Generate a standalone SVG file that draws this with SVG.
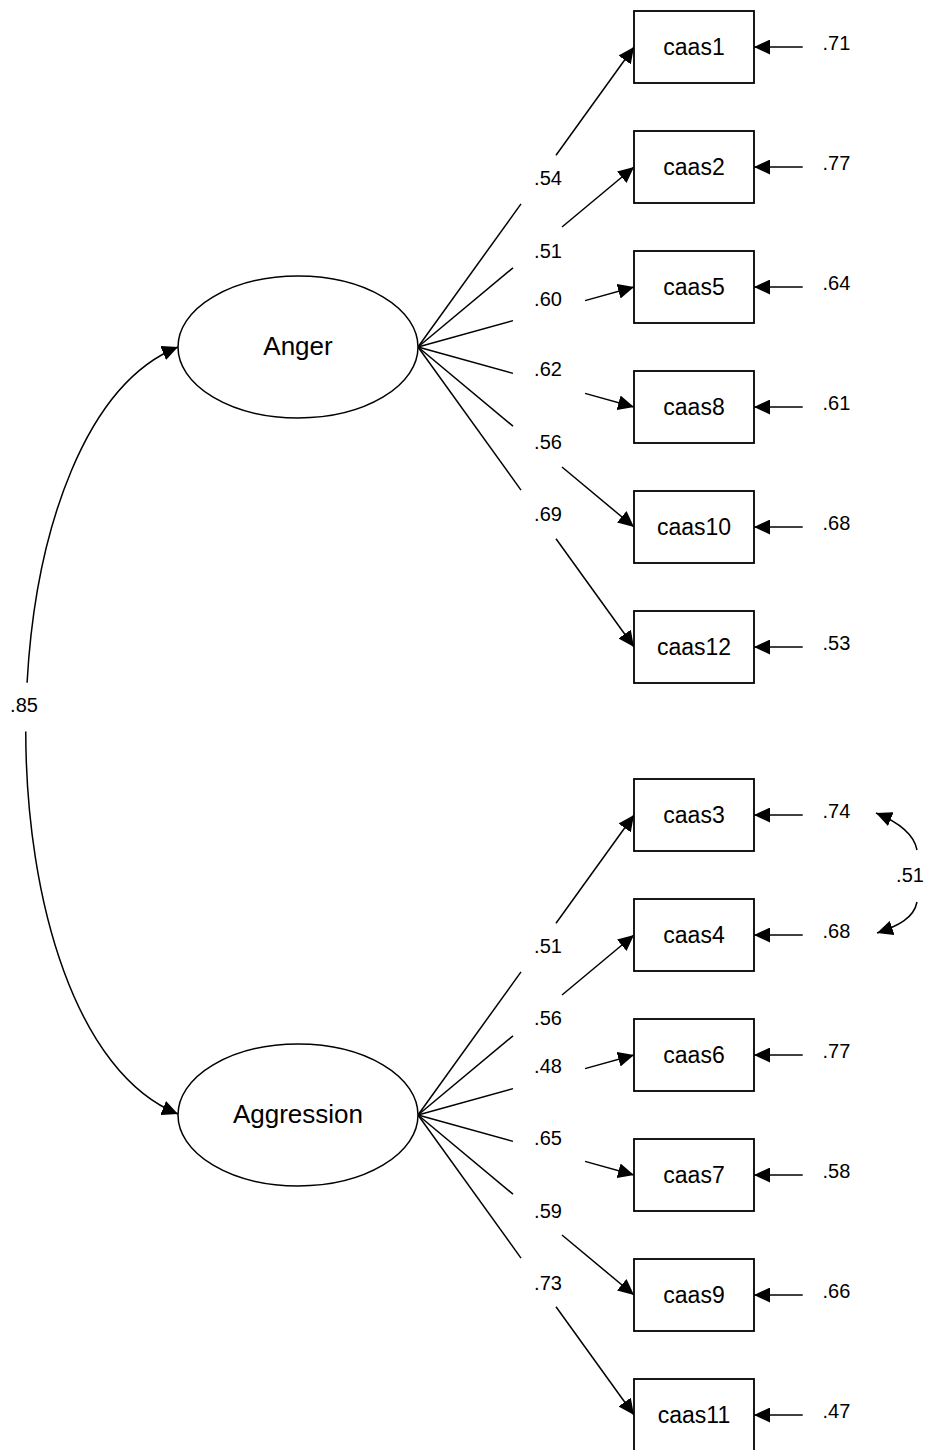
<svg xmlns="http://www.w3.org/2000/svg" width="928" height="1450" viewBox="0 0 928 1450">
  <style>
    .bg { fill: #ffffff; }
    .obs { fill: #ffffff; stroke: #000000; stroke-width: 1.8; }
    .lat { fill: #ffffff; stroke: #000000; stroke-width: 1.5; }
    .edge { fill: none; stroke: #000000; stroke-width: 1.5; }
    .arr { marker-end: url(#head); }
    text { font-family: "Liberation Sans", Arial, sans-serif; fill: #000000; }
    .lname { font-size: 26px; text-anchor: middle; }
    .oname { font-size: 23px; text-anchor: middle; }
    .coef { font-size: 20px; text-anchor: middle; }
    .err { font-size: 20px; text-anchor: start; }
  </style>
  <defs>
    <marker id="head" markerUnits="userSpaceOnUse" markerWidth="16" markerHeight="15" refX="16" refY="7.5" orient="auto" viewBox="0 0 16 15">
      <path d="M0,0 L16,7.5 L0,15 Z" fill="#000000"/>
    </marker>
  </defs>

  <rect class="bg" x="0" y="0" width="928" height="1450"/>

  <!-- connectors -->
  <g id="connectors">
    <!-- Anger loadings -->
    <path class="edge" d="M418,347 L521,203.9"/>
    <path class="edge arr" d="M556,155.3 L634,47"/>
    <path class="edge" d="M418,347 L513,267.8"/>
    <path class="edge arr" d="M562,227 L634,167"/>
    <path class="edge" d="M418,347 L513,320.6"/>
    <path class="edge arr" d="M585,300.6 L634,287"/>
    <path class="edge" d="M418,347 L513,373.4"/>
    <path class="edge arr" d="M585,393.4 L634,407"/>
    <path class="edge" d="M418,347 L513,426.2"/>
    <path class="edge arr" d="M562,467 L634,527"/>
    <path class="edge" d="M418,347 L521,490.1"/>
    <path class="edge arr" d="M556,538.7 L634,647"/>

    <!-- Aggression loadings -->
    <path class="edge" d="M418,1115 L521,971.9"/>
    <path class="edge arr" d="M556,923.3 L634,815"/>
    <path class="edge" d="M418,1115 L513,1035.8"/>
    <path class="edge arr" d="M562,995 L634,935"/>
    <path class="edge" d="M418,1115 L513,1088.6"/>
    <path class="edge arr" d="M585,1068.6 L634,1055"/>
    <path class="edge" d="M418,1115 L513,1141.4"/>
    <path class="edge arr" d="M585,1161.4 L634,1175"/>
    <path class="edge" d="M418,1115 L513,1194.2"/>
    <path class="edge arr" d="M562,1235 L634,1295"/>
    <path class="edge" d="M418,1115 L521,1258.1"/>
    <path class="edge arr" d="M556,1306.7 L634,1415"/>

    <!-- error terms -->
    <path class="edge arr" d="M802.7,47 L754,47"/>
    <path class="edge arr" d="M802.7,167 L754,167"/>
    <path class="edge arr" d="M802.7,287 L754,287"/>
    <path class="edge arr" d="M802.7,407 L754,407"/>
    <path class="edge arr" d="M802.7,527 L754,527"/>
    <path class="edge arr" d="M802.7,647 L754,647"/>
    <path class="edge arr" d="M802.7,815 L754,815"/>
    <path class="edge arr" d="M802.7,935 L754,935"/>
    <path class="edge arr" d="M802.7,1055 L754,1055"/>
    <path class="edge arr" d="M802.7,1175 L754,1175"/>
    <path class="edge arr" d="M802.7,1295 L754,1295"/>
    <path class="edge arr" d="M802.7,1415 L754,1415"/>

    <!-- factor covariance -->
    <path class="edge arr" d="M27.07,682.72 C35.65,528.46 85.96,384.18 178,347"/>
    <path class="edge arr" d="M25.75,731.52 C25.95,902.43 76.7,1073.08 178,1114"/>

    <!-- error covariance caas3 / caas4 -->
    <path class="edge arr" d="M917,850 C914,834 898,822 876,813"/>
    <path class="edge arr" d="M917,902 C914,918 898,926 877,933"/>
  </g>

  <!-- coefficient labels -->
  <g id="labels">
    <text class="coef" x="548" y="185">.54</text>
    <text class="coef" x="548" y="258">.51</text>
    <text class="coef" x="548" y="306">.60</text>
    <text class="coef" x="548" y="376">.62</text>
    <text class="coef" x="548" y="449">.56</text>
    <text class="coef" x="548" y="521">.69</text>

    <text class="coef" x="548" y="953">.51</text>
    <text class="coef" x="548" y="1025">.56</text>
    <text class="coef" x="548" y="1073">.48</text>
    <text class="coef" x="548" y="1145">.65</text>
    <text class="coef" x="548" y="1218">.59</text>
    <text class="coef" x="548" y="1290">.73</text>

    <text class="err" x="822.5" y="50">.71</text>
    <text class="err" x="822.5" y="170">.77</text>
    <text class="err" x="822.5" y="290">.64</text>
    <text class="err" x="822.5" y="410">.61</text>
    <text class="err" x="822.5" y="530">.68</text>
    <text class="err" x="822.5" y="650">.53</text>
    <text class="err" x="822.5" y="818">.74</text>
    <text class="err" x="822.5" y="938">.68</text>
    <text class="err" x="822.5" y="1058">.77</text>
    <text class="err" x="822.5" y="1178">.58</text>
    <text class="err" x="822.5" y="1298">.66</text>
    <text class="err" x="822.5" y="1418">.47</text>

    <text class="coef" x="24" y="712">.85</text>
    <text class="coef" x="910" y="882">.51</text>
  </g>

  <!-- latent factors -->
  <g id="anger">
    <ellipse class="lat" cx="298" cy="347" rx="120" ry="71"/>
    <text class="lname" x="298" y="355">Anger</text>
  </g>
  <g id="aggression">
    <ellipse class="lat" cx="298" cy="1115" rx="120" ry="71"/>
    <text class="lname" x="298" y="1123">Aggression</text>
  </g>

  <!-- observed items -->
  <g id="caas1"><rect class="obs" x="634" y="11" width="120" height="72"/><text class="oname" x="694" y="55">caas1</text></g>
  <g id="caas2"><rect class="obs" x="634" y="131" width="120" height="72"/><text class="oname" x="694" y="175">caas2</text></g>
  <g id="caas5"><rect class="obs" x="634" y="251" width="120" height="72"/><text class="oname" x="694" y="295">caas5</text></g>
  <g id="caas8"><rect class="obs" x="634" y="371" width="120" height="72"/><text class="oname" x="694" y="415">caas8</text></g>
  <g id="caas10"><rect class="obs" x="634" y="491" width="120" height="72"/><text class="oname" x="694" y="535">caas10</text></g>
  <g id="caas12"><rect class="obs" x="634" y="611" width="120" height="72"/><text class="oname" x="694" y="655">caas12</text></g>

  <g id="caas3"><rect class="obs" x="634" y="779" width="120" height="72"/><text class="oname" x="694" y="823">caas3</text></g>
  <g id="caas4"><rect class="obs" x="634" y="899" width="120" height="72"/><text class="oname" x="694" y="943">caas4</text></g>
  <g id="caas6"><rect class="obs" x="634" y="1019" width="120" height="72"/><text class="oname" x="694" y="1063">caas6</text></g>
  <g id="caas7"><rect class="obs" x="634" y="1139" width="120" height="72"/><text class="oname" x="694" y="1183">caas7</text></g>
  <g id="caas9"><rect class="obs" x="634" y="1259" width="120" height="72"/><text class="oname" x="694" y="1303">caas9</text></g>
  <g id="caas11"><rect class="obs" x="634" y="1379" width="120" height="72"/><text class="oname" x="694" y="1423">caas11</text></g>
</svg>
